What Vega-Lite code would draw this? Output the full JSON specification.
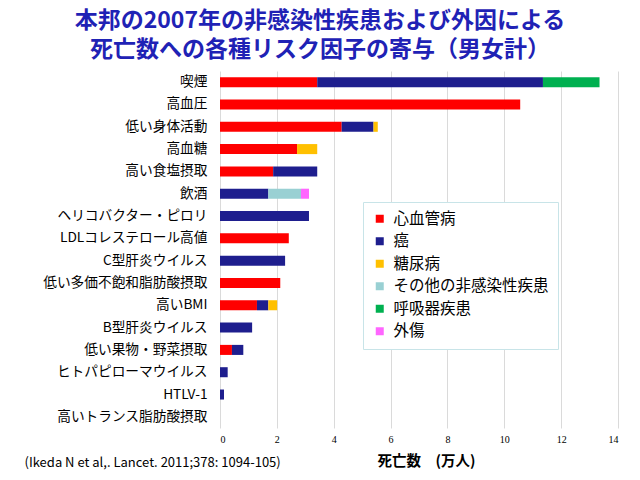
{
  "$schema": "https://vega.github.io/schema/vega-lite/v6.json",
  "autosize": "none",
  "width": 398,
  "height": 357,
  "padding": {"left": 220, "top": 71, "right": 22, "bottom": 52},
  "background": "white",
  "title": {
    "text": ["本邦の2007年の非感染性疾患および外因による", "死亡数への各種リスク因子の寄与（男女計）"],
    "anchor": "middle",
    "dx": -99,
    "offset": 9,
    "font": "Noto Sans CJK JP",
    "fontSize": 23,
    "fontWeight": "bold",
    "color": "#1F22B5",
    "lineHeight": 29
  },
  "datasets": {
    "causes": [
      {"cause": "心血管病", "rank": 1},
      {"cause": "癌", "rank": 2},
      {"cause": "糖尿病", "rank": 3},
      {"cause": "その他の非感染性疾患", "rank": 4},
      {"cause": "呼吸器疾患", "rank": 5},
      {"cause": "外傷", "rank": 6}
    ]
  },
  "data": {
    "values": [
      {"factor": "喫煙", "cause": "心血管病", "value": 3.42},
      {"factor": "喫煙", "cause": "癌", "value": 7.94},
      {"factor": "喫煙", "cause": "呼吸器疾患", "value": 1.99},
      {"factor": "高血圧", "cause": "心血管病", "value": 10.56},
      {"factor": "低い身体活動", "cause": "心血管病", "value": 4.28},
      {"factor": "低い身体活動", "cause": "癌", "value": 1.12},
      {"factor": "低い身体活動", "cause": "糖尿病", "value": 0.15},
      {"factor": "高血糖", "cause": "心血管病", "value": 2.71},
      {"factor": "高血糖", "cause": "糖尿病", "value": 0.71},
      {"factor": "高い食塩摂取", "cause": "心血管病", "value": 1.87},
      {"factor": "高い食塩摂取", "cause": "癌", "value": 1.55},
      {"factor": "飲酒", "cause": "癌", "value": 1.70},
      {"factor": "飲酒", "cause": "その他の非感染性疾患", "value": 1.15},
      {"factor": "飲酒", "cause": "外傷", "value": 0.28},
      {"factor": "ヘリコバクター・ピロリ", "cause": "癌", "value": 3.13},
      {"factor": "LDLコレステロール高値", "cause": "心血管病", "value": 2.42},
      {"factor": "C型肝炎ウイルス", "cause": "癌", "value": 2.29},
      {"factor": "低い多価不飽和脂肪酸摂取", "cause": "心血管病", "value": 2.12},
      {"factor": "高いBMI", "cause": "心血管病", "value": 1.30},
      {"factor": "高いBMI", "cause": "癌", "value": 0.40},
      {"factor": "高いBMI", "cause": "糖尿病", "value": 0.31},
      {"factor": "B型肝炎ウイルス", "cause": "癌", "value": 1.13},
      {"factor": "低い果物・野菜摂取", "cause": "心血管病", "value": 0.42},
      {"factor": "低い果物・野菜摂取", "cause": "癌", "value": 0.40},
      {"factor": "ヒトパピローマウイルス", "cause": "癌", "value": 0.27},
      {"factor": "HTLV-1", "cause": "癌", "value": 0.14},
      {"factor": "高いトランス脂肪酸摂取", "cause": "心血管病", "value": 0.0}
    ]
  },
  "transform": [
    {"lookup": "cause", "from": {"data": {"name": "causes"}, "key": "cause", "fields": ["rank"]}}
  ],
  "mark": {"type": "bar"},
  "encoding": {
    "y": {
      "field": "factor",
      "type": "nominal",
      "sort": ["喫煙", "高血圧", "低い身体活動", "高血糖", "高い食塩摂取", "飲酒", "ヘリコバクター・ピロリ", "LDLコレステロール高値", "C型肝炎ウイルス", "低い多価不飽和脂肪酸摂取", "高いBMI", "B型肝炎ウイルス", "低い果物・野菜摂取", "ヒトパピローマウイルス", "HTLV-1", "高いトランス脂肪酸摂取"],
      "scale": {"paddingInner": 0.55, "paddingOuter": 0.275},
      "axis": {
        "title": "(Ikeda N et al,. Lancet. 2011;378: 1094-105)",
        "titleAngle": 0,
        "titleX": -196,
        "titleY": 391,
        "titleAlign": "left",
        "titleBaseline": "middle",
        "titleFont": "Noto Sans CJK JP",
        "titleFontSize": 13,
        "titleFontWeight": "normal",
        "titleColor": "#000000",
        "domain": false,
        "ticks": false,
        "labelFont": "Noto Sans CJK JP",
        "labelFontSize": 13.7,
        "labelColor": "#000000",
        "labelPadding": 13,
        "labelLimit": 300
      }
    },
    "x": {
      "field": "value",
      "type": "quantitative",
      "stack": "zero",
      "scale": {"domain": [0, 14], "nice": false},
      "axis": {
        "values": [0, 2, 4, 6, 8, 10, 12, 14],
        "title": "死亡数　(万人)",
        "titleFont": "Noto Sans CJK JP",
        "titleFontSize": 14.5,
        "titleFontWeight": "bold",
        "titleColor": "#000000",
        "titlePadding": 10,
        "titleX": 206,
        "domain": false,
        "ticks": false,
        "labelFont": "Liberation Serif",
        "labelFontSize": 10,
        "labelColor": "#000000",
        "labelPadding": 6,
        "grid": true,
        "gridColor": "#DADADA",
        "gridWidth": 1
      }
    },
    "color": {
      "field": "cause",
      "type": "nominal",
      "sort": ["心血管病", "癌", "糖尿病", "その他の非感染性疾患", "呼吸器疾患", "外傷"],
      "scale": {
        "domain": ["心血管病", "癌", "糖尿病", "その他の非感染性疾患", "呼吸器疾患", "外傷"],
        "range": ["#FF0000", "#1E1E8E", "#FFC000", "#99D0D3", "#00B050", "#FF66FF"]
      },
      "legend": {
        "title": null,
        "orient": "none",
        "legendX": 143,
        "legendY": 131,
        "symbolType": "square",
        "symbolSize": 64,
        "symbolStrokeWidth": 0,
        "labelFont": "Noto Sans CJK JP",
        "labelFontSize": 15.5,
        "labelColor": "#000000",
        "labelOffset": 6,
        "rowPadding": 5.5,
        "padding": 9,
        "strokeColor": "#C8E4E8",
        "fillColor": "#FFFFFF",
        "labelLimit": 300
      }
    },
    "order": {"field": "rank", "type": "quantitative", "sort": "ascending"}
  },
  "config": {"view": {"stroke": null}}
}
